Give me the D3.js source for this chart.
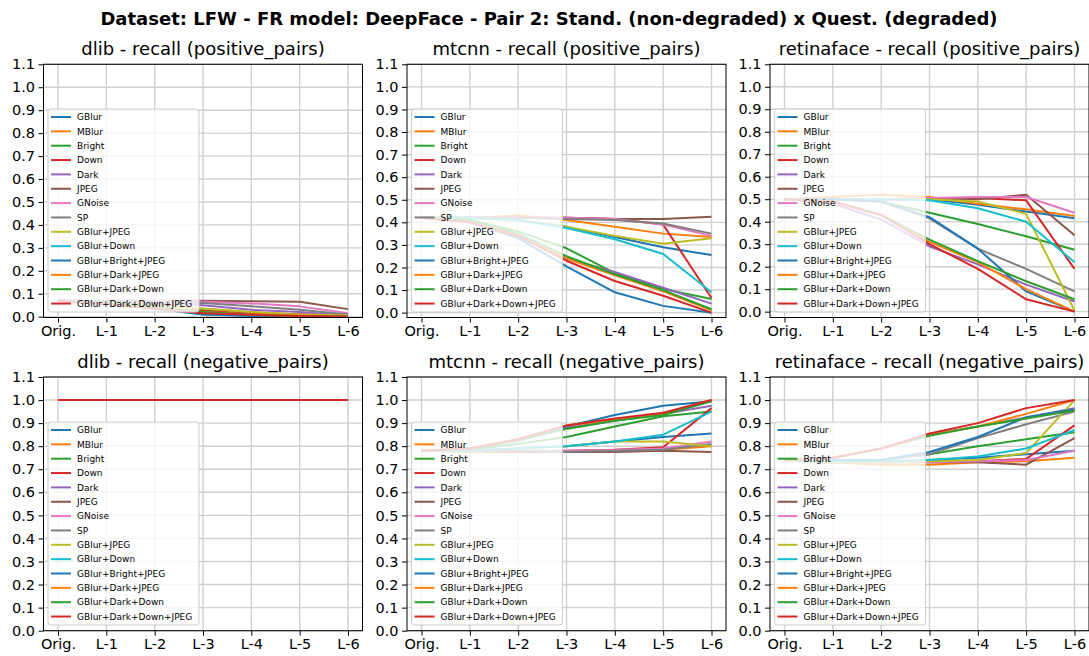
<!DOCTYPE html>
<html><head><meta charset="utf-8">
<script src="https://cdn.jsdelivr.net/npm/d3@7"></script>
<style>body{margin:0;background:#fff} text{font-family:"DejaVu Sans",sans-serif;fill:#000}</style>
</head><body><svg id="c" width="1089" height="656"></svg>
<script>
const levels = ["Orig.","L-1","L-2","L-3","L-4","L-5","L-6"];
const seriesNames = ["GBlur","MBlur","Bright","Down","Dark","JPEG","GNoise","SP","GBlur+JPEG","GBlur+Down","GBlur+Bright+JPEG","GBlur+Dark+JPEG","GBlur+Dark+Down","GBlur+Dark+Down+JPEG"];
const palette = ["#1f77b4","#ff7f0e","#2ca02c","#d62728","#9467bd","#8c564b","#e377c2","#7f7f7f","#bcbd22","#17becf","#1f77b4","#ff7f0e","#2ca02c","#d62728"];
const yTickValues = [0,0.1,0.2,0.3,0.4,0.5,0.6,0.7,0.8,0.9,1.0,1.1];
const suptitle = "Dataset: LFW - FR model: DeepFace - Pair 2: Stand. (non-degraded) x Quest. (degraded)";
const panelTitles = ["dlib - recall (positive_pairs)","mtcnn - recall (positive_pairs)","retinaface - recall (positive_pairs)",
  "dlib - recall (negative_pairs)","mtcnn - recall (negative_pairs)","retinaface - recall (negative_pairs)"];

const dlibPos = [
 [0.07,0.06,0.04,0.012,0.005,0.0,0.0],
 [0.07,0.065,0.055,0.035,0.02,0.01,0.005],
 [0.07,0.065,0.05,0.03,0.015,0.008,0.003],
 [0.07,0.065,0.06,0.025,0.015,0.01,0.005],
 [0.07,0.065,0.06,0.05,0.03,0.02,0.005],
 [0.07,0.07,0.07,0.07,0.067,0.065,0.033],
 [0.07,0.07,0.068,0.065,0.058,0.045,0.015],
 [0.07,0.068,0.065,0.06,0.045,0.03,0.01],
 [0.07,0.06,0.045,0.035,0.02,0.01,0.005],
 [0.07,0.06,0.04,0.01,0.005,0.0,0.0],
 [0.07,0.055,0.035,0.01,0.003,0.0,0.0],
 [0.07,0.055,0.04,0.02,0.01,0.005,0.0],
 [0.07,0.06,0.04,0.02,0.008,0.003,0.0],
 [0.07,0.055,0.035,0.015,0.008,0.003,0.0]
];
const mtcnnPos = [
 [0.42,0.42,0.41,0.38,0.335,0.29,0.255],
 [0.42,0.42,0.43,0.41,0.38,0.35,0.335],
 [0.42,0.41,0.36,0.285,0.175,0.105,0.06],
 [0.42,0.42,0.42,0.42,0.415,0.39,0.065],
 [0.42,0.40,0.34,0.24,0.18,0.11,0.04],
 [0.42,0.42,0.42,0.42,0.415,0.415,0.425],
 [0.42,0.42,0.42,0.42,0.415,0.39,0.34],
 [0.42,0.42,0.42,0.415,0.41,0.395,0.35],
 [0.42,0.42,0.41,0.38,0.34,0.305,0.33],
 [0.42,0.42,0.41,0.375,0.325,0.26,0.09],
 [0.42,0.40,0.33,0.205,0.09,0.03,0.0],
 [0.42,0.40,0.34,0.24,0.165,0.095,0.01],
 [0.42,0.41,0.35,0.25,0.17,0.10,0.015],
 [0.42,0.40,0.34,0.23,0.14,0.075,0.0]
];
const retinaPos = [
 [0.5,0.5,0.5,0.5,0.475,0.445,0.415],
 [0.5,0.51,0.52,0.51,0.48,0.455,0.425],
 [0.5,0.5,0.49,0.44,0.39,0.335,0.275],
 [0.5,0.5,0.5,0.505,0.505,0.495,0.19],
 [0.5,0.48,0.41,0.29,0.21,0.12,0.045],
 [0.5,0.5,0.5,0.5,0.5,0.52,0.34],
 [0.5,0.5,0.5,0.505,0.51,0.51,0.44],
 [0.5,0.5,0.49,0.415,0.28,0.19,0.09],
 [0.5,0.5,0.5,0.5,0.49,0.435,0.005],
 [0.5,0.5,0.5,0.495,0.46,0.40,0.22],
 [0.5,0.5,0.49,0.42,0.28,0.09,0.0],
 [0.5,0.49,0.43,0.31,0.22,0.10,0.0],
 [0.5,0.49,0.43,0.32,0.225,0.135,0.055],
 [0.5,0.49,0.43,0.30,0.19,0.055,0.0]
];
const dlibNeg = [
 [1,1,1,1,1,1,1],[1,1,1,1,1,1,1],[1,1,1,1,1,1,1],[1,1,1,1,1,1,1],[1,1,1,1,1,1,1],
 [1,1,1,1,1,1,1],[1,1,1,1,1,1,1],[1,1,1,1,1,1,1],[1,1,1,1,1,1,1],[1,1,1,1,1,1,1],
 [1,1,1,1,1,1,1],[1,1,1,1,1,1,1],[1,1,1,1,1,1,1],[1,1,1,1,1,1,1]
];
const mtcnnNeg = [
 [0.78,0.78,0.79,0.80,0.82,0.84,0.855],
 [0.78,0.775,0.775,0.775,0.78,0.785,0.80],
 [0.78,0.785,0.81,0.84,0.885,0.93,0.95],
 [0.78,0.78,0.775,0.78,0.785,0.795,0.965],
 [0.78,0.79,0.825,0.88,0.91,0.94,0.975],
 [0.78,0.78,0.775,0.775,0.775,0.78,0.775],
 [0.78,0.78,0.78,0.78,0.785,0.79,0.82],
 [0.78,0.78,0.78,0.775,0.78,0.785,0.81],
 [0.78,0.78,0.79,0.80,0.82,0.82,0.80],
 [0.78,0.78,0.79,0.80,0.82,0.85,0.95],
 [0.78,0.79,0.83,0.885,0.935,0.975,0.995],
 [0.78,0.79,0.83,0.89,0.915,0.94,1.0],
 [0.78,0.79,0.825,0.875,0.91,0.935,0.995],
 [0.78,0.79,0.83,0.89,0.92,0.945,1.0]
];
const retinaNeg = [
 [0.74,0.73,0.73,0.74,0.75,0.765,0.78],
 [0.74,0.73,0.72,0.72,0.73,0.735,0.75],
 [0.74,0.74,0.74,0.765,0.80,0.83,0.86],
 [0.74,0.73,0.73,0.735,0.735,0.745,0.89],
 [0.74,0.75,0.79,0.85,0.885,0.925,0.965],
 [0.74,0.73,0.73,0.73,0.73,0.72,0.835],
 [0.74,0.73,0.73,0.73,0.735,0.74,0.78],
 [0.74,0.74,0.74,0.765,0.835,0.895,0.95],
 [0.74,0.73,0.73,0.735,0.74,0.77,1.0],
 [0.74,0.735,0.735,0.74,0.755,0.79,0.87],
 [0.74,0.74,0.74,0.775,0.84,0.925,0.96],
 [0.74,0.75,0.79,0.85,0.885,0.94,1.0],
 [0.74,0.75,0.79,0.845,0.885,0.92,0.955],
 [0.74,0.75,0.79,0.855,0.90,0.965,1.0]
];

const panelData = [dlibPos, mtcnnPos, retinaPos, dlibNeg, mtcnnNeg, retinaNeg];

const svg = d3.select("#c");
svg.append("rect").attr("width",1089).attr("height",656).attr("fill","#fff");

svg.append("text").attr("x",549).attr("y",25).attr("text-anchor","middle")
  .attr("font-size",18).attr("font-weight","bold").text(suptitle);

const colLeft = [43.5, 407, 770];
const axW = 319;
const rowTop = [64.3, 377];
const rowBottom = [317.5, 630.7];

panelData.forEach((data, i) => {
  const row = Math.floor(i/3), col = i%3;
  const left = colLeft[col], top = rowTop[row], bottom = rowBottom[row];
  let ymin = 0;
  if (row === 0) {
    const all = data.flat();
    const mn = d3.min(all), mx = d3.max(all);
    ymin = mn - 0.05*(mx-mn);
  }
  const step = axW/6.6;
  const x = d3.scalePoint().domain(levels).range([left+0.3*step, left+axW-0.3*step]).padding(0);
  const y = d3.scaleLinear().domain([ymin, 1.1]).range([bottom, top]);

  const g = svg.append("g");
  g.append("g").selectAll("line").data(levels).join("line")
    .attr("x1",d=>x(d)).attr("x2",d=>x(d)).attr("y1",top).attr("y2",bottom)
    .attr("stroke","#d0d0d0").attr("stroke-width",1.4);
  g.append("g").selectAll("line").data(yTickValues).join("line")
    .attr("x1",left).attr("x2",left+axW).attr("y1",d=>y(d)).attr("y2",d=>y(d))
    .attr("stroke","#d0d0d0").attr("stroke-width",1.4);

  const clipId = "clip"+i;
  svg.append("clipPath").attr("id",clipId).append("rect")
    .attr("x",left).attr("y",top).attr("width",axW).attr("height",bottom-top);

  const line = d3.line().x((d,j)=>x(levels[j])).y(d=>y(d));
  g.append("g").attr("clip-path",`url(#${clipId})`).selectAll("path").data(data).join("path")
    .attr("d",line).attr("fill","none").attr("stroke",(d,k)=>palette[k])
    .attr("stroke-width",2).attr("stroke-linejoin","round");

  const ax = d3.axisBottom(x).tickSize(5).tickPadding(3);
  const axg = g.append("g").attr("transform",`translate(0,${bottom})`).call(ax);
  axg.select(".domain").remove();
  const ay = d3.axisLeft(y).tickValues(yTickValues).tickFormat(d3.format(".1f")).tickSize(5).tickPadding(3.5);
  const ayg = g.append("g").attr("transform",`translate(${left},0)`).call(ay);
  ayg.select(".domain").remove();
  [axg, ayg].forEach(a => {
    a.selectAll("text").attr("font-size",14.5).attr("font-family","DejaVu Sans").attr("fill","#000");
    a.selectAll("line").attr("stroke","#000").attr("stroke-width",1);
  });

  const lg = g.append("g");
  const lx = left+4.5, lyTop = (row===0? 109 : 422), lh = 203;
  lg.append("rect").attr("x",lx).attr("y",lyTop).attr("width",151).attr("height",lh)
    .attr("rx",3).attr("fill","#fff").attr("fill-opacity",0.8).attr("stroke","#cccccc").attr("stroke-width",1);
  const ent = lg.selectAll("g").data(seriesNames).join("g")
    .attr("transform",(d,k)=>`translate(${lx},${lyTop+8+k*14.35})`);
  ent.append("line").attr("x1",3).attr("x2",23).attr("y1",0).attr("y2",0)
    .attr("stroke",(d,k)=>palette[k]).attr("stroke-width",2);
  ent.append("text").attr("x",29).attr("y",3.2).attr("font-size",9).text(d=>d);

  g.append("rect").attr("x",left).attr("y",top).attr("width",axW).attr("height",bottom-top)
    .attr("fill","none").attr("stroke","#000").attr("stroke-width",1);

  svg.append("text").attr("x",left+axW/2).attr("y",top-9).attr("text-anchor","middle")
    .attr("font-size",18).text(panelTitles[i]);
});
</script></body></html>
